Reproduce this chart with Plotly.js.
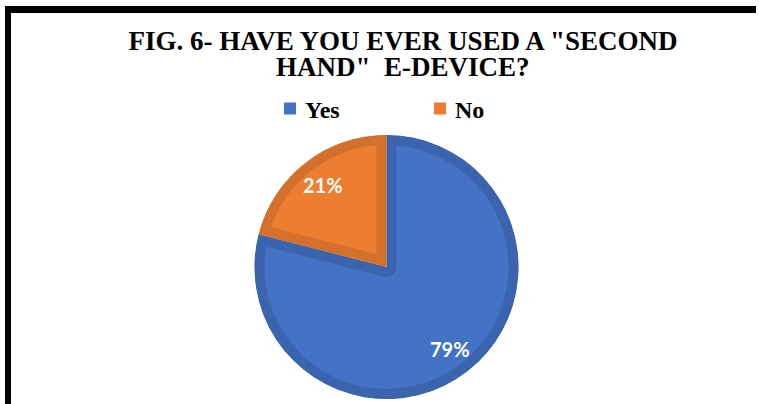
<!DOCTYPE html>
<html>
<head>
<meta charset="utf-8">
<script src="https://cdn.plot.ly/plotly-3.0.1.min.js"></script>
<style>
  html, body { margin: 0; padding: 0; background: #ffffff; }
  #chart { width: 759px; height: 404px; }
</style>
</head>
<body>
<div id="chart"></div>
<script>
// ---- data ----
var categories = ["Yes", "No"];
var shares = [79, 21];
var titleLine1 = 'FIG. 6- HAVE YOU EVER USED A "SECOND';
var titleLine2 = 'HAND"\u00a0 E-DEVICE?';

// ---- styles ----
var fillColors = ["#4472C4", "#ED7D31"];
var edgeColors = ["#3A64AE", "#D3702C"];
var serif = "'Liberation Serif', 'Times New Roman', serif";

var W = 759, H = 404;
function px(x) { return x / W; }
function py(y) { return 1 - y / H; }

var cx = 386.5, cy = 267, r = 132;

var data = [{
  type: "pie",
  labels: categories,
  values: shares,
  sort: false,
  direction: "clockwise",
  rotation: 0,
  marker: { colors: fillColors, line: { color: edgeColors, width: 20 } },
  textinfo: "none",
  hoverinfo: "none",
  domain: { x: [px(cx - r), px(cx + r)], y: [py(cy + r), py(cy - r)] }
}];

// percentage labels placed on each slice's bisector, derived from the shares
var total = shares.reduce(function (a, b) { return a + b; }, 0);
var labelAnnotations = [];
var cum = 0;
shares.forEach(function (v) {
  var mid = (cum + v / 2) / total * 2 * Math.PI; // clockwise from 12 o'clock
  cum += v;
  var lx = cx + 0.785 * r * Math.sin(mid);
  var ly = cy - 0.785 * r * Math.cos(mid);
  labelAnnotations.push({
    text: Math.round(v / total * 100) + "%",
    showarrow: false, xref: "paper", yref: "paper",
    x: px(lx), y: py(ly), xanchor: "center", yanchor: "middle",
    font: { family: "Lato, 'Open Sans', sans-serif", size: 20, color: "#ffffff", weight: "bold" }
  });
});

var layout = {
  width: W, height: H,
  margin: { l: 0, r: 0, t: 0, b: 0 },
  paper_bgcolor: "#ffffff",
  plot_bgcolor: "#ffffff",
  title: {
    text: titleLine1,
    font: { family: serif, size: 27, color: "#000000", weight: "bold" },
    x: px(403), xanchor: "center",
    y: py(50), yanchor: "bottom", yref: "container"
  },
  annotations: [{
    text: titleLine2, showarrow: false,
    xref: "paper", yref: "paper",
    x: px(403), xanchor: "center",
    y: py(84), yanchor: "bottom",
    font: { family: serif, size: 27, color: "#000000", weight: "bold" }
  }].concat(labelAnnotations),
  showlegend: true,
  legend: {
    orientation: "h",
    x: px(270), xanchor: "left",
    y: py(109), yanchor: "middle",
    font: { family: serif, size: 24, color: "#000000", weight: "bold" },
    entrywidth: 105,
    bgcolor: "rgba(0,0,0,0)",
    borderwidth: 0
  },
  shapes: [
    { type: "rect", xref: "paper", yref: "paper", x0: px(5), x1: px(11), y0: py(404), y1: py(6),
      fillcolor: "#000000", line: { width: 0 } },
    { type: "rect", xref: "paper", yref: "paper", x0: px(5), x1: px(756), y0: py(13), y1: py(6),
      fillcolor: "#000000", line: { width: 0 } }
  ]
};

Plotly.newPlot("chart", data, layout, { staticPlot: true, displayModeBar: false }).then(function (gd) {
  var ns = "http://www.w3.org/2000/svg";
  var svg = gd.querySelector("svg.main-svg");
  var defs = svg.querySelector("defs");
  if (!defs) { defs = document.createElementNS(ns, "defs"); svg.insertBefore(defs, svg.firstChild); }
  // keep the slice outlines inside each slice (inner border like the original)
  gd.querySelectorAll(".pielayer .slice path.surface").forEach(function (p, i) {
    var cp = document.createElementNS(ns, "clipPath");
    cp.setAttribute("id", "sliceclip" + i);
    var cpath = document.createElementNS(ns, "path");
    cpath.setAttribute("d", p.getAttribute("d"));
    cp.appendChild(cpath);
    defs.appendChild(cp);
    p.setAttribute("clip-path", "url(#sliceclip" + i + ")");
  });
  // plain legend squares, text a little closer to its square
  gd.querySelectorAll(".legend .legendpie").forEach(function (p) {
    p.style.strokeWidth = "0px";
  });
  gd.querySelectorAll(".legend .legendtext").forEach(function (t) {
    var x = parseFloat(t.getAttribute("x") || "40");
    t.setAttribute("x", x - 5);
  });
});
</script>
</body>
</html>
